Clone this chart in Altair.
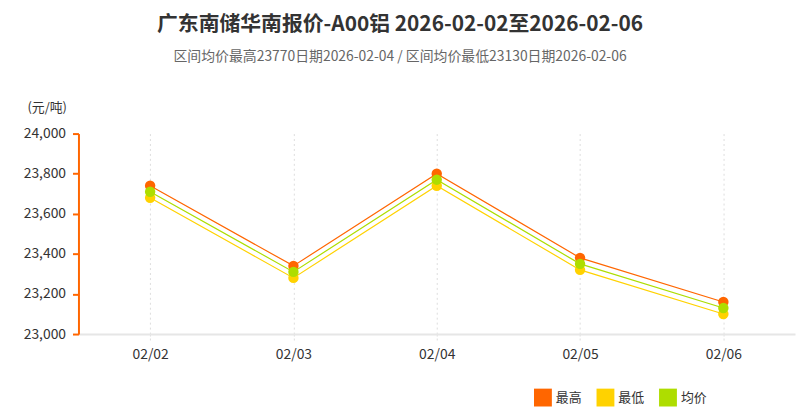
import altair as alt
import pandas as pd

dates = ["02/02", "02/03", "02/04", "02/05", "02/06"]
high = [23740, 23340, 23800, 23380, 23160]
low = [23680, 23280, 23740, 23320, 23100]
avg = [23710, 23310, 23770, 23350, 23130]
series_names = ["最高", "最低", "均价"]
colors = ["#FF6600", "#FFD200", "#AEDD00"]

rows = []
for name, vals in zip(series_names, [high, low, avg]):
    for d, v in zip(dates, vals):
        rows.append({"date": d, "series": name, "value": v, "order": series_names.index(name)})
df = pd.DataFrame(rows)

FONT = "Noto Sans CJK SC"

color = alt.Color(
    "series:N",
    scale=alt.Scale(domain=series_names, range=colors),
    legend=alt.Legend(
        title=None,
        orient="none",
        direction="horizontal",
        legendX=459,
        legendY=257,
        symbolType="square",
        symbolSize=324,
        symbolStrokeWidth=0,
        symbolOpacity=1,
        labelFontSize=13,
        labelFont=FONT,
        labelColor="#333333",
        columnPadding=14,
        padding=0,
    ),
)

x = alt.X(
    "date:N",
    sort=dates,
    scale=alt.Scale(type="point", padding=0.5),
    axis=alt.Axis(
        title=None,
        labelAngle=0,
        labelFont=FONT,
        labelFontSize=14,
        labelColor="#333333",
        labelPadding=8,
        grid=True,
        gridDash=[2, 3],
        gridColor="#dddddd",
        domainColor="#e6e6e6",
        domainWidth=2,
        tickColor="#dddddd",
        tickDash=[2, 2],
        tickSize=6,
    ),
)

y = alt.Y(
    "value:Q",
    scale=alt.Scale(domain=[23000, 24000], nice=False, zero=False),
    axis=alt.Axis(
        title="(元/吨)",
        titleAngle=0,
        titleX=-32,
        titleY=-26,
        titleAlign="center",
        titleBaseline="middle",
        titleFont=FONT,
        titleFontSize=13,
        titleFontWeight="normal",
        titleColor="#333333",
        values=[23000, 23200, 23400, 23600, 23800, 24000],
        format=",d",
        labelFont=FONT,
        labelFontSize=14,
        labelColor="#333333",
        labelPadding=7,
        grid=False,
        domainColor="#FF6600",
        domainWidth=2,
        tickColor="#FF6600",
        tickWidth=2,
        tickSize=6,
    ),
)

base = alt.Chart(df)
lines = base.mark_line(strokeWidth=1.2).encode(x=x, y=y, color=color, order="order:Q")
points = base.mark_circle(size=110, opacity=1).encode(x=x, y=y, color=color, order="order:Q")

chart = (
    alt.layer(lines, points)
    .properties(
        width=722,
        height=202,
        padding={"left": 71, "top": 125, "right": 2, "bottom": 76},
        autosize=alt.AutoSizeParams(type="none"),
        title=alt.TitleParams(
            text="广东南储华南报价-A00铝 2026-02-02至2026-02-06",
            subtitle="区间均价最高23770日期2026-02-04 / 区间均价最低23130日期2026-02-06",
            anchor="middle",
            dx=-37,
            offset=38,
            font=FONT,
            fontSize=21,
            fontWeight="bold",
            color="#333333",
            subtitleFont=FONT,
            subtitleFontSize=14,
            subtitleColor="#666666",
            subtitlePadding=15,
        ),
    )
    .configure_view(stroke=None)
)

chart.save("out.html", embed_options={"renderer": "svg", "actions": False})
